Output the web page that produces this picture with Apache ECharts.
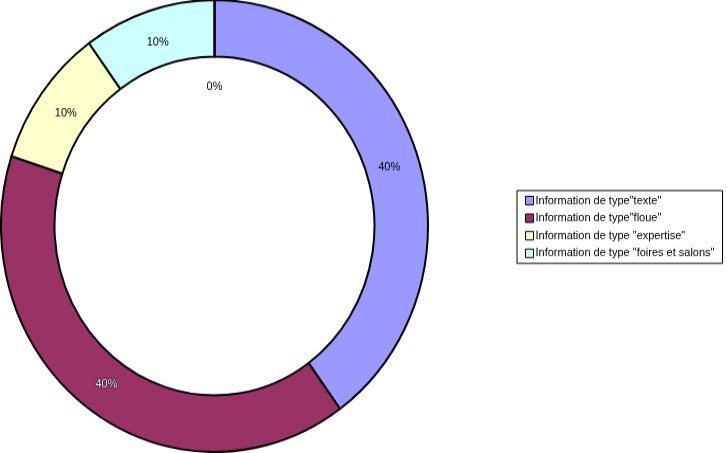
<!DOCTYPE html>
<html>
<head>
<meta charset="utf-8">
<script src="https://cdn.jsdelivr.net/npm/echarts@6/dist/echarts.min.js"></script>
<style>
html,body{margin:0;padding:0;background:#fff;overflow:hidden;}
#wrap{width:727px;height:453px;overflow:hidden;position:relative;}
#chart{width:727px;height:428px;transform:scaleY(1.0585);transform-origin:0 0;}
</style>
</head>
<body>
<div id="wrap"><div id="chart"></div></div>
<script>
const categories = ['Information de type"texte"', 'Information de type"floue"', 'Information de type "expertise"', 'Information de type "foires et salons"', ''];
const values = [40, 40, 10, 10, 0];
const colors = ['#9999FF', '#993366', '#FFFFCC', '#CCFFFF', '#FFFFFF'];

const CX = 214.5, CY = 213.5;
const chart = echarts.init(document.getElementById('chart'), null, {renderer: 'canvas'});
const data = categories.map((c, i) => {
  const d = {name: c, value: values[i], itemStyle: {color: colors[i]}};
  if (i === 1) d.label = {color: '#ffffff', textBorderColor: '#000000', textBorderWidth: 1};
  return d;
});
chart.setOption({
  animation: false,
  backgroundColor: '#ffffff',
  textStyle: {fontFamily: 'Liberation Sans'},
  legend: {
    orient: 'vertical',
    left: 517,
    top: 180,
    data: categories.slice(0, 4),
    icon: 'rect',
    itemWidth: 8,
    itemHeight: 8,
    itemGap: 5.6,
    borderColor: '#000',
    borderWidth: 1,
    borderRadius: 0,
    padding: [4, 8, 4, 8],
    itemStyle: {borderColor: '#000', borderWidth: 1},
    textStyle: {fontSize: 11, color: '#000', fontFamily: 'Liberation Sans', padding: [0, 0, 0, -3]},
    selectedMode: false
  },
  series: [{
    type: 'pie',
    center: [CX, CY],
    radius: [160, 213.5],
    startAngle: 90,
    clockwise: true,
    avoidLabelOverlap: false,
    minShowLabelAngle: 0,
    stillShowZeroSum: true,
    itemStyle: {borderColor: '#000', borderWidth: 2},
    label: {
      show: true,
      position: 'inside',
      formatter: '{d}%',
      fontSize: 11,
      color: '#000',
      fontFamily: 'Liberation Sans'
    },
    labelLine: {show: false},
    emphasis: {disabled: true},
    labelLayout: function (p) {
      if (p.dataIndex === 4) {
        return {x: CX, y: 82, align: 'center', verticalAlign: 'middle'};
      }
      const r = p.labelRect;
      const lx = r.x + r.width / 2, ly = r.y + r.height / 2;
      const dx = lx - CX, dy = ly - CY;
      const dist = Math.sqrt(dx * dx + dy * dy);
      const k = (dist - 6) / dist;
      return {x: CX + dx * k, y: CY + dy * k + 1, align: 'center', verticalAlign: 'middle'};
    },
    data: data
  }]
});
</script>
</body>
</html>
